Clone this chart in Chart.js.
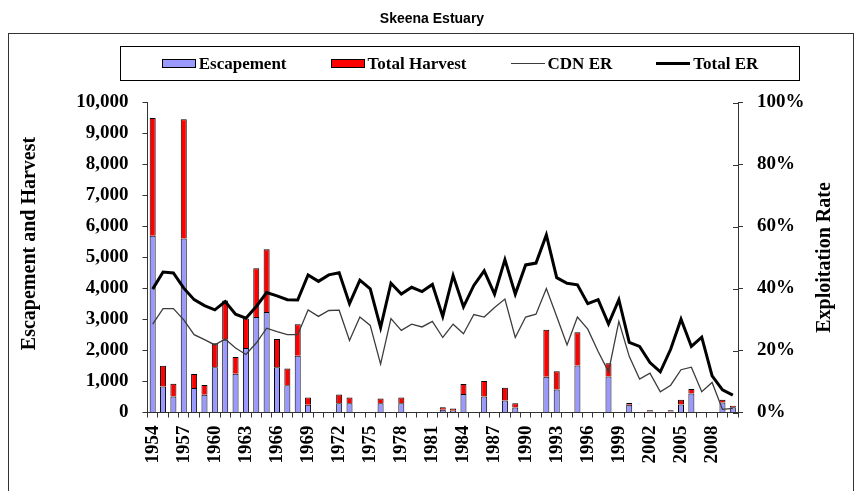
<!DOCTYPE html>
<html>
<head>
<meta charset="utf-8">
<script src="https://cdn.jsdelivr.net/npm/chart.js@4/dist/chart.umd.min.js"></script>
<style>
  html, body { margin: 0; padding: 0; background: #fff; }
  #wrap { position: relative; width: 862px; height: 491px; overflow: hidden; }
  #c { position: absolute; left: 0; top: 0; }
  #frame { position: absolute; left: 8px; top: 33px; width: 846px; height: 480px; border: 1px solid #333; box-sizing: border-box; }
  #title { position: absolute; left: 0; width: 864px; top: 10px; text-align: center; font: bold 14px "Liberation Sans", Arial, sans-serif; color: #000; }
  #legend { position: absolute; left: 120px; top: 46px; width: 680px; height: 35px; border: 1px solid #000; box-sizing: border-box;
            display: flex; justify-content: center; align-items: center; gap: 44px; font: bold 17px "Liberation Serif", "Times New Roman", serif; color: #000; }
  .item { display: flex; align-items: center; }
  .sw { width: 34px; margin-right: 3px; box-sizing: border-box; }
</style>
</head>
<body>
<div id="wrap">
  <canvas id="c" width="862" height="491"></canvas>
  <div id="frame"></div>
  <div id="title"></div>
  <div id="legend"></div>
</div>
<script>
const chartTitle = "Skeena Estuary";
const leftAxisTitle = "Escapement and Harvest";
const rightAxisTitle = "Exploitation Rate";

const years = [1954,1955,1956,1957,1958,1959,1960,1961,1962,1963,1964,1965,1966,1967,1968,1969,1970,1971,1972,1973,
  1974,1975,1976,1977,1978,1979,1980,1981,1982,1983,1984,1985,1986,1987,1988,1989,1990,1991,1992,1993,
  1994,1995,1996,1997,1998,1999,2000,2001,2002,2003,2004,2005,2006,2007,2008,2009,2010];

const escapement = [5700,840,520,5610,790,570,1460,2350,1250,2080,3080,3240,1460,880,1830,250,null,null,300,300,
  null,null,300,null,300,null,null,null,90,60,600,null,520,null,390,160,null,null,1150,740,
  null,1520,null,null,1160,null,250,null,30,null,30,260,610,null,null,320,170];

const totalHarvest = [3800,670,410,3850,450,320,770,1260,540,950,1570,2030,910,540,1020,230,null,null,280,180,
  null,null,150,null,180,null,null,null,80,70,320,null,500,null,410,140,null,null,1520,590,
  null,1070,null,null,430,null,55,null,40,null,40,150,150,null,null,90,50];

const cdnER = [28.5,33.5,33.5,29.9,25.1,23.5,21.8,23.7,20.8,18.7,22.4,27.2,26.1,25.1,25.1,33.1,31.0,32.9,33.0,23.2,
  30.8,28.1,15.6,30.3,26.5,28.5,27.6,29.4,24.2,28.5,25.4,31.6,30.8,33.9,36.6,24.2,30.8,31.7,40.0,31.0,
  21.8,30.8,26.9,19.7,13.1,29.4,18.1,10.8,12.7,6.7,8.8,13.8,14.6,6.7,9.7,1.0,1.3];

const totalER = [39.8,45.3,45.0,40.1,36.4,34.5,33.1,35.8,31.7,30.4,34.2,38.7,37.6,36.4,36.3,44.4,42.3,44.4,45.1,35.1,
  42.7,39.9,27.4,41.7,38.2,40.4,39.0,41.3,31.0,44.2,34.1,41.0,45.7,38.2,49.3,38.2,47.6,48.2,57.3,43.5,
  41.7,41.2,35.1,36.4,28.6,36.4,22.6,21.3,16.1,13.1,20.4,30.1,21.3,24.3,11.8,7.3,5.6];

const seriesNames = ["Escapement", "Total Harvest", "CDN ER", "Total ER"];

const AXIS = "#333";
const TICK_FONT = { family: '"Liberation Serif", "Times New Roman", serif', size: 19, weight: 'bold' };

document.getElementById('title').textContent = chartTitle;

const datasets = [
  { type: 'bar', label: seriesNames[0], data: escapement, backgroundColor: '#9999FF', borderColor: '#000', borderWidth: 1,
    yAxisID: 'y', order: 1, barPercentage: 0.58, categoryPercentage: 1.0 },
  { type: 'bar', label: seriesNames[1], data: totalHarvest, backgroundColor: '#FF0000', borderColor: '#000', borderWidth: 1,
    yAxisID: 'y', order: 1, barPercentage: 0.58, categoryPercentage: 1.0 },
  { type: 'line', label: seriesNames[2], data: cdnER, borderColor: '#3c3c3c', borderWidth: 1.3, pointRadius: 0,
    tension: 0, fill: false, yAxisID: 'y1', order: 0 },
  { type: 'line', label: seriesNames[3], data: totalER, borderColor: '#000', borderWidth: 3, pointRadius: 0,
    tension: 0, fill: false, yAxisID: 'y1', order: 0 }
];

// HTML legend built from dataset definitions
const legendEl = document.getElementById('legend');
datasets.forEach(ds => {
  const item = document.createElement('div'); item.className = 'item';
  const sw = document.createElement('div'); sw.className = 'sw';
  if (ds.type === 'bar') { sw.style.height = '9px'; sw.style.background = ds.backgroundColor; sw.style.border = '1px solid #000'; }
  else { sw.style.height = ds.borderWidth + 'px'; sw.style.background = ds.borderColor; }
  const tx = document.createElement('span'); tx.textContent = ds.label;
  item.appendChild(sw); item.appendChild(tx); legendEl.appendChild(item);
});

const extras = {
  id: 'extras',
  afterDraw(chart) {
    const { ctx, chartArea } = chart;
    const y1 = chart.scales.y1;
    ctx.save();
    ctx.strokeStyle = AXIS; ctx.lineWidth = 1;
    y1.ticks.forEach((t, i) => {
      const y = Math.round(y1.getPixelForTick(i)) + 0.5;
      ctx.beginPath(); ctx.moveTo(chartArea.right - 5, y); ctx.lineTo(chartArea.right, y); ctx.stroke();
    });
    ctx.fillStyle = '#000';
    ctx.font = 'bold 20px "Liberation Serif", "Times New Roman", serif';
    ctx.textAlign = 'center'; ctx.textBaseline = 'middle';
    const midY = (chartArea.top + chartArea.bottom) / 2;
    ctx.save(); ctx.translate(30, midY - 14); ctx.rotate(-Math.PI / 2); ctx.fillText(leftAxisTitle, 0, 0); ctx.restore();
    ctx.save(); ctx.translate(825, midY); ctx.rotate(-Math.PI / 2); ctx.fillText(rightAxisTitle, 0, 0); ctx.restore();
    ctx.restore();
  }
};

new Chart(document.getElementById('c'), {
  data: { labels: years.map(String), datasets },
  options: {
    responsive: false,
    animation: false,
    layout: { padding: { top: 102.5, bottom: 0, left: 0, right: 0 } },
    plugins: { legend: { display: false }, title: { display: false }, tooltip: { enabled: false } },
    scales: {
      x: {
        stacked: true,
        offset: true,
        grid: { display: true, drawOnChartArea: false, drawTicks: true, tickLength: 5, color: AXIS, offset: true },
        border: { display: true, color: AXIS, width: 1 },
        ticks: {
          autoSkip: false, maxRotation: 90, minRotation: 90, padding: 8, color: '#000', font: TICK_FONT,
          callback: function (v, i) { return i % 3 === 0 ? String(years[i]) : ''; }
        },
        afterFit(scale) { scale.height = 78.5; }
      },
      y: {
        position: 'left', stacked: true, min: 0, max: 10000,
        grid: { drawOnChartArea: false, drawTicks: true, tickLength: 5, color: AXIS },
        border: { display: true, color: AXIS, width: 1 },
        ticks: { stepSize: 1000, padding: 14, color: '#000', font: TICK_FONT,
                 callback: v => Number(v).toLocaleString('en-US') },
        afterFit(scale) { scale.width = 147.5; }
      },
      y1: {
        position: 'right', stacked: false, min: 0, max: 100,
        grid: { drawOnChartArea: false, drawTicks: true, tickLength: 5, color: AXIS },
        border: { display: true, color: AXIS, width: 1 },
        ticks: { stepSize: 20, padding: 14, color: '#000', font: TICK_FONT, callback: v => v + '%' },
        afterFit(scale) { scale.width = 124; }
      }
    }
  },
  plugins: [extras]
});
</script>
</body>
</html>
